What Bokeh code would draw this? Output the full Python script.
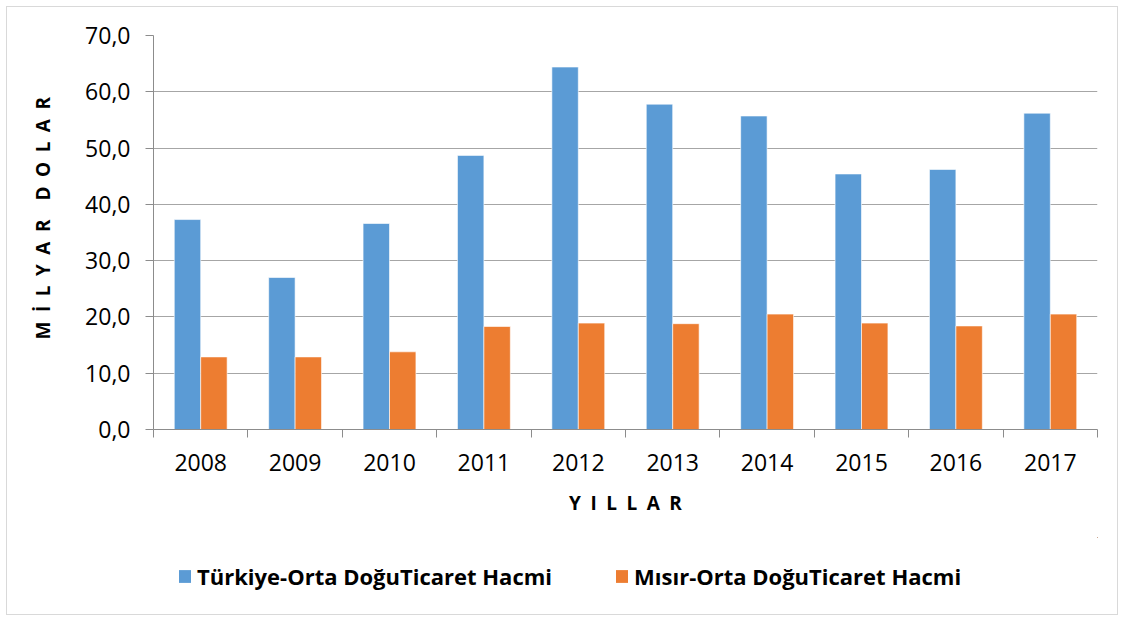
import numpy as np
from bokeh.plotting import figure
from bokeh.layouts import column
from bokeh.models import ColumnDataSource, FixedTicker, Legend, LegendItem, Range1d
from bokeh.transform import dodge
from bokeh.embed import file_html
from bokeh.resources import INLINE

# ---- data ----
years = ["2008", "2009", "2010", "2011", "2012", "2013", "2014", "2015", "2016", "2017"]
turkiye = [37.3, 27.0, 36.6, 48.7, 64.4, 57.8, 55.7, 45.4, 46.2, 56.2]
misir = [12.9, 12.9, 13.8, 18.3, 18.9, 18.8, 20.5, 18.9, 18.4, 20.5]
y_ticks = [0, 10, 20, 30, 40, 50, 60, 70]
y_tick_labels = ["0,0", "10,0", "20,0", "30,0", "40,0", "50,0", "60,0", "70,0"]
series_names = ["Türkiye-Orta DoğuTicaret Hacmi", "Mısır-Orta DoğuTicaret Hacmi"]

BLUE = "#5B9BD5"
ORANGE = "#ED7D31"
FONT = "Open Sans"
GRID = "#A6A6A6"
AXIS = "#8C8C8C"

n = len(years)
centers = list(np.arange(n) + 0.5)
bounds = list(np.arange(n + 1).astype(float))

src = ColumnDataSource(dict(x=centers, tr=turkiye, eg=misir))

p = figure(
    width=1110, height=530,
    x_range=Range1d(0, n), y_range=Range1d(y_ticks[0], y_ticks[-1]),
    output_backend="svg", toolbar_location=None,
    min_border_left=146, min_border_right=20, min_border_top=28, min_border_bottom=108,
)
p.outline_line_color = None
p.background_fill_color = "white"
p.border_fill_color = "white"

bw = 0.28
bar_style = dict(line_color="white", line_alpha=0.6, line_width=1)
r1 = p.vbar(x=dodge("x", -0.14, range=p.x_range), top="tr", width=bw, bottom=0, source=src,
            fill_color=BLUE, **bar_style)
r2 = p.vbar(x=dodge("x", 0.14, range=p.x_range), top="eg", width=bw, bottom=0, source=src,
            fill_color=ORANGE, **bar_style)

# x axis
xa = p.xaxis[0]
xa.ticker = FixedTicker(ticks=centers, minor_ticks=bounds)
xa.major_label_overrides = {c: y for c, y in zip(centers, years)}
xa.major_tick_out = 0
xa.major_tick_in = 0
xa.minor_tick_out = 8
xa.minor_tick_in = 0
xa.minor_tick_line_color = AXIS
xa.axis_line_color = AXIS
xa.major_label_text_font = FONT
xa.major_label_text_font_size = "23px"
xa.major_label_text_color = "black"
xa.major_label_standoff = 16
xa.axis_label = "Y\u2002I\u2002L\u2002L\u2002A\u2002R"
xa.axis_label_text_font = FONT
xa.axis_label_text_font_style = "bold"
xa.axis_label_text_font_size = "19px"
xa.axis_label_text_color = "black"
xa.axis_label_standoff = 16

# y axis
ya = p.yaxis[0]
ya.ticker = FixedTicker(ticks=y_ticks)
ya.major_label_overrides = {t: l for t, l in zip(y_ticks, y_tick_labels)}
ya.major_tick_out = 8
ya.major_tick_in = 0
ya.minor_tick_line_color = None
ya.major_tick_line_color = AXIS
ya.axis_line_color = AXIS
ya.major_label_text_font = FONT
ya.major_label_text_font_size = "23px"
ya.major_label_text_color = "black"
ya.major_label_standoff = 15
ya.axis_label = "\u2002\u2002\u2002M\u2002İ\u2002L\u2002Y\u2002A\u2002R\u2002\u2002D\u2002O\u2002L\u2002A\u2002R"
ya.axis_label_text_font = FONT
ya.axis_label_text_font_style = "bold"
ya.axis_label_text_font_size = "19px"
ya.axis_label_text_color = "black"
ya.axis_label_standoff = 26

p.xgrid.grid_line_color = None
p.ygrid.grid_line_color = GRID
p.ygrid.grid_line_width = 1

# legend strip (separate canvas so the legend is not clipped);
# the same series are attached here but lie far outside this strip's ranges
p2 = figure(
    width=1110, height=77, x_range=Range1d(-40, -30), y_range=Range1d(-200, -100),
    x_axis_location=None, y_axis_location=None,
    output_backend="svg", toolbar_location=None,
    min_border_left=0, min_border_right=0, min_border_top=0, min_border_bottom=0,
)
p2.outline_line_color = None
p2.grid.grid_line_color = None
l1 = p2.vbar(x=dodge("x", -0.14, range=p2.x_range), top="tr", width=bw, bottom=0, source=src,
             fill_color=BLUE, line_color=None)
l2 = p2.vbar(x=dodge("x", 0.14, range=p2.x_range), top="eg", width=bw, bottom=0, source=src,
             fill_color=ORANGE, line_color=None)

legend = Legend(
    items=[LegendItem(label=series_names[0], renderers=[l1]),
           LegendItem(label=series_names[1], renderers=[l2])],
    location=(24, 23), orientation="horizontal",
    glyph_width=15, glyph_height=16, label_standoff=5, spacing=62,
    padding=0, margin=0, border_line_color=None, background_fill_alpha=0,
    label_text_font=FONT, label_text_font_style="bold", label_text_font_size="22px",
    label_text_color="black",
)
p2.add_layout(legend)

layout = column(p, p2, spacing=0,
                styles={"border": "1px solid #D9D9D9", "margin-left": "6px", "margin-top": "6px"})

open("out.html", "w").write(file_html(layout, INLINE))
